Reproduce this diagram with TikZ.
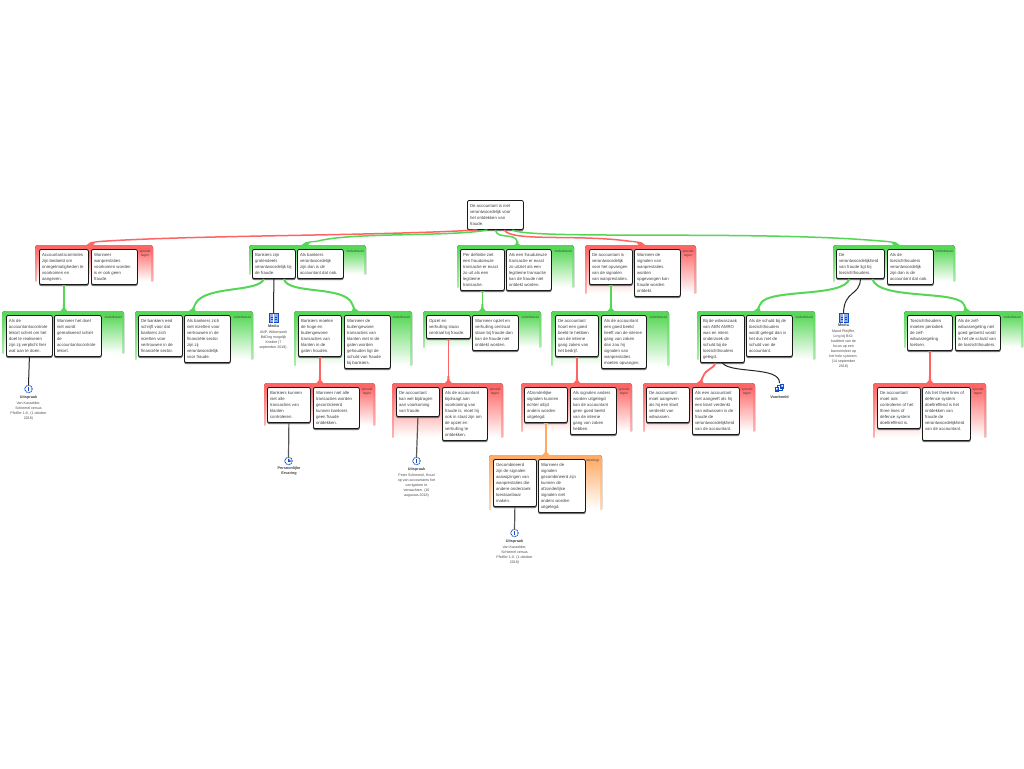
\documentclass[tikz,border=0pt]{standalone}
\usepackage{fontspec}
\setmainfont{Liberation Sans}
\usetikzlibrary{calc}
\definecolor{grn}{RGB}{85,215,85}
\definecolor{rdd}{RGB}{255,100,100}
\definecolor{org}{RGB}{255,170,100}
\definecolor{txt}{RGB}{65,65,65}
\definecolor{icn}{RGB}{15,75,200}
\tikzset{
 x=1pt,y=-1pt,
 boxn/.style={draw=black!90,fill=white,line width=0.8pt,rounded corners=2pt,inner sep=2.6pt,anchor=north west,text=txt,
   font=\fontsize{4.3}{6}\selectfont,
   preaction={draw=black!55,fill=black!55,line width=0.8pt,transform canvas={yshift=-1.1pt}}},
 glab/.style={font=\fontsize{3.3}{4.6}\selectfont,text=txt,inner sep=0pt,align=center},
 iname/.style={font=\bfseries\fontsize{3.8}{5}\selectfont,text=txt,inner sep=0pt,align=center},
 idesc/.style={font=\fontsize{3.6}{5}\selectfont,text=black!70,inner sep=0pt,align=center,anchor=north},
 blackline/.style={draw=black!85,line width=1pt},
 greyline/.style={draw=black!65,line width=1.2pt},
 dashicon/.style={circle,draw=icn,dash pattern=on 1.1pt off 0.7pt,line width=0.9pt,minimum size=7.5pt,inner sep=0pt},
 mediaicon/.style={draw=icn,fill=icn!45,line width=0.5pt,minimum width=9pt,minimum height=9pt,inner sep=0pt},
}
\newcommand\tl[1]{\begin{tabular}{@{}l@{}}#1\end{tabular}}
% name x1 y1 x2 y2 text
\newcommand\bx[6]{%
 \pgfmathsetlengthmacro\bw{#4-#2}\pgfmathsetlengthmacro\bh{#5-#3}\pgfmathsetlengthmacro\tw{#4-#2-5.2}%
 \node[boxn,minimum width=\bw,minimum height=\bh] (#1) at (#2,#3) {\makebox[\tw][l]{\tl{#6}}};}
\newcommand\grpbase[6]{%
 \fill[top color=#6,bottom color=#6!50!white] (#2,#5) [rounded corners=3pt] -- (#2,#3) -- (#4,#3) [sharp corners] -- (#4,#5) -- cycle;
 \fill[top color=#6,bottom color=white] (#2+2,#3+3) rectangle (#4-2,#5);
 \pgfmathsetlengthmacro\gw{#4-#2}\pgfmathsetlengthmacro\gh{#5-#3}%
 \node[inner sep=0pt,minimum width=\gw,minimum height=\gh,anchor=north west] (#1) at (#2,#3) {};}
\newcommand\grpG[5]{\grpbase{#1}{#2}{#3}{#4}{#5}{grn}\node[glab,anchor=east] (#1l) at (#4-2,#3+6) {onderbouwt};}
\newcommand\grpR[5]{\grpbase{#1}{#2}{#3}{#4}{#5}{rdd}\node[glab] (#1l) at (#4-8,#3+8.5) {spreekt\\tegen};}
\newcommand\grpO[5]{\grpbase{#1}{#2}{#3}{#4}{#5}{org}\node[glab,anchor=east] (#1l) at (#4-3,#3+6) {weerlegt};}
% flare at an end point: colour, point, slant of its apex
\newcommand\flare[3]{\fill[#1] ($#2+(#3-1,-7)$) .. controls ($#2+(#3*0.3-1,-2)$) .. ($#2+(-3.4,0)$) -- ($#2+(3.4,0)$) .. controls ($#2+(#3*0.3+1,-2)$) .. ($#2+(#3+1,-7)$) -- cycle;}
% wedge for a nearly level arrival: colour, point, side (+1 from right, -1 from left)
\newcommand\wedgeflare[3]{\fill[#1] ($#2+(-1.5*#3,0)$) .. controls ($#2+(1*#3,-3)$) .. ($#2+(14*#3,-4.5)$) -- ($#2+(14*#3,-3)$) .. controls ($#2+(6*#3,-2.5)$) .. ($#2+(5*#3,0)$) -- cycle;}
\newcommand\stem[3]{% colour, from, to-group
 \fill[#1] ($(#2.south)+(-2.4,0)$) -- ($(#2.south)+(2.4,0)$) -- ($(#2.south)+(1,1.5)$) -- ($(#2.south)+(-1,1.5)$) -- cycle;
 \draw[#1,line width=1.8pt] (#2.south) -- (#2.south |- #3.north);
 \flare{#1}{(#2.south |- #3.north)}{0}}
\begin{document}
\begin{tikzpicture}
\useasboundingbox (0,0) rectangle (1024,768);
\fill[white] (0,0) rectangle (1024,768);
% groups
\grpR{ga}{35}{245}{153}{281}
\grpG{gb}{2}{311}{124}{353}
\grpG{gc}{135}{311}{253}{359}
\grpG{gd}{249}{245}{366}{274}
\grpG{ge}{294}{311}{412}{365}
\grpG{gf}{423}{311}{541}{347}
\grpG{gg}{457}{245}{574}{287}
\grpR{gh}{585}{245}{696}{293}
\grpG{gi}{551}{311}{669}{365}
\grpG{gj}{833}{245}{955}{281}
\grpG{gk}{697}{311}{815}{359}
\grpG{gl}{904}{311}{1023}{347}
\grpR{gm}{643}{383}{755}{431}
\grpR{gn}{873}{383}{986}{437}
\grpR{go}{264}{383}{375}{425}
\grpR{gp}{392}{383}{503}{437}
\grpR{gq}{521}{383}{632}{431}
\grpO{gr}{489}{455}{602}{509}
% boxes
\bx{root}{467}{200}{523}{227}{De accountant is niet\\verantwoordelijk voor\\het ontdekken van\\fraude.}
\bx{a1}{39}{249}{88}{281}{Accountantscontroles\\zijn bedoeld om\\onregelmatigheden te\\voorkomen en\\aangeven.}
\bx{a2}{91}{249}{137}{281}{Wanneer\\wanprestaties\\voorkomen worden\\is er ook geen\\fraude.}
\bx{b1}{6}{315}{52}{353}{Als de\\accountantscontrole\\tekort schiet om het\\doel te realiseren\\zijn zij verplicht hier\\wat aan te doen.}
\bx{b2}{54}{315}{101}{353}{Wanneer het doel\\niet wordt\\gerealiseerd schiet\\de\\accountantscontrole\\tekort.}
\bx{c1}{138}{315}{182}{353}{De bankiers eed\\schrijft voor dat\\bankiers zich\\inzetten voor\\vertrouwen in de\\financiële sector.}
\bx{c2}{184}{315}{230}{359}{Als bankiers zich\\niet inzetten voor\\vertrouwen in de\\financiële sector\\zijn zij\\verantwoordelijk\\voor fraude.}
\bx{d1}{252}{249}{295}{275}{Bankiers zijn\\grotendeels\\verantwoordelijk bij\\de fraude.}
\bx{d2}{297}{249}{343}{275}{Als bankiers\\verantwoordelijk\\zijn dan is de\\accountant dat ook.}
\bx{e1}{298}{315}{341}{353}{Bankiers moeten\\de hoge en\\buitengewone\\transacties van\\klanten in de\\gaten houden.}
\bx{e2}{344}{315}{390}{365}{Wanneer de\\buitengewone\\transacties van\\klanten niet in de\\gaten worden\\gehouden ligt de\\schuld van fraude\\bij bankiers.}
\bx{f1}{426}{315}{470}{335}{Opzet en\\verhulling staan\\centraal bij fraude.}
\bx{f2}{472}{315}{518}{347}{Wanneer opzet en\\verhulling centraal\\staan bij fraude dan\\kan de fraude niet\\ontdekt worden.}
\bx{g1}{460}{249}{504}{287}{Per definitie ziet\\een frauduleuze\\transactie er exact\\zo uit als een\\legitieme\\transactie.}
\bx{g2}{506}{249}{551}{287}{Als een frauduleuze\\transactie er exact\\zo uitziet als een\\legitieme transactie\\kan de fraude niet\\ontdekt worden.}
\bx{h1}{589}{249}{632}{281}{De accountant is\\verantwoordelijk\\voor het opvangen\\van de signalen\\van wanprestaties.}
\bx{h2}{634}{249}{680}{293}{Wanneer de\\signalen van\\wanprestaties\\worden\\opgevangen kan\\fraude worden\\ontdekt.}
\bx{i1}{555}{315}{598}{353}{De accountant\\hoort een goed\\beeld te hebben\\van de interne\\gang zaken van\\het bedrijf.}
\bx{i2}{601}{315}{646}{365}{Als de accountant\\een goed beeld\\heeft van de interne\\gang van zaken\\dan zou hij\\signalen van\\wanprestaties\\moeten opvangen.}
\bx{j1}{836}{249}{884}{275}{De\\verantwoordelijkheid\\van fraude ligt bij\\toezichthouders.}
\bx{j2}{887}{249}{933}{281}{Als de\\toezichthouders\\verantwoordelijk\\zijn dan is de\\accountant dat ook.}
\bx{k1}{700}{315}{744}{359}{Bij de witwaszaak\\van ABN AMRO\\was en intern\\onderzoek de\\schuld bij de\\toezichthouders\\gelegd.}
\bx{k2}{746}{315}{792}{353}{Als de schuld bij de\\toezichthouders\\wordt gelegd dan is\\het dus niet de\\schuld van de\\accountant.}
\bx{l1}{907}{315}{952}{347}{Toezichthouders\\moeten periodiek\\de zelf-\\witwasregeling\\toetsen.}
\bx{l2}{955}{315}{1000}{347}{Als de zelf-\\witwasregeling niet\\goed getoetst wordt\\is het de schuld van\\de toezichthouders.}
\bx{m1}{646}{387}{689}{419}{De accountant\\moet aangeven\\als hij een klant\\verdenkt van\\witwassen.}
\bx{m2}{692}{387}{739}{431}{Als een accountant\\niet aangeeft als hij\\een klant verdenkt\\van witwassen is de\\fraude de\\verantwoordelijkheid\\van de accountant.}
\bx{n1}{877}{387}{920}{425}{De accountant\\moet ook\\controleren of het\\three lines of\\defence system\\doeltreffend is.}
\bx{n2}{922}{387}{970}{437}{Als het three lines of\\defence system\\doeltreffend is het\\ontdekken van\\fraude de\\verantwoordelijkheid\\van de accountant.\\\mbox{}}
\bx{o1}{267}{387}{310}{419}{Bankiers kunnen\\niet alle\\transacties van\\klanten\\controleren.}
\bx{o2}{313}{387}{359}{425}{Wanneer niet alle\\transacties worden\\gecontroleerd\\kunnen bankiers\\geen fraude\\ontdekken.}
\bx{p1}{396}{387}{439}{413}{De accountant\\kan wel bijdragen\\aan voorkoming\\van fraude.}
\bx{p2}{442}{387}{487}{437}{Als de accountant\\bijdraagt aan\\voorkoming van\\fraude is, moet hij\\ook in staat zijn om\\de opzet en\\verhulling te\\ontdekken.}
\bx{q1}{524}{387}{567}{419}{Afzonderlijke\\signalen kunnen\\echter altijd\\anders worden\\uitgelegd.}
\bx{q2}{570}{387}{616}{431}{Als signalen anders\\worden uitgelegd\\kan de accountant\\geen goed beeld\\van de interne\\gang van zaken\\hebben.}
\bx{r1}{493}{459}{536}{503}{Gecombineerd\\zijn de signalen\\aanwijzingen van\\wanprestaties die\\andere onderzoek\\toestaanbaar\\maken.}
\bx{r2}{538}{459}{585}{509}{Wanneer de\\signalen\\gecombineerd zijn\\kunnen de\\afzonderlijke\\signalen niet\\anders worden\\uitgelegd.}
% icons
\node[dashicon] (ui1) at (28.5,389) {};
\node[dashicon] (pe1) at (288.5,461) {};
\node[dashicon] (ui2) at (416.5,461) {};
\node[dashicon] (ui3) at (514.5,533) {};
\node[mediaicon] (me1) at (273.5,318) {};
\node[mediaicon] (me2) at (843.5,318) {};
\coordinate (vb) at (779.5,388);
\foreach \n in {ui1,ui2,ui3}{\fill[icn] ($(\n)+(-0.7,-2.2)$) rectangle ($(\n)+(0.7,0.6)$);\fill[icn] ($(\n)+(-0.7,1.1)$) rectangle ($(\n)+(0.7,2.3)$);}
\fill[icn] ($(pe1)+(-0.4,0.8)$) -- ($(pe1)+(2.2,0.8)$) -- ($(pe1)+(2.2,-0.6)$) -- ($(pe1)+(0.9,-0.6)$) -- ($(pe1)+(0.9,-2.2)$) -- ($(pe1)+(-0.4,-2.2)$) -- cycle;
\foreach \n in {me1,me2}{\draw[white,line width=0.5pt] ($(\n)+(0,-4.5)$) -- ($(\n)+(0,4.5)$);\draw[icn,line width=0.5pt] ($(\n)+(-3,-1)$) -- ($(\n)+(-1,-1)$) ($(\n)+(1,-1)$) -- ($(\n)+(3,-1)$) ($(\n)+(-3,1.5)$) -- ($(\n)+(-1,1.5)$) ($(\n)+(1,1.5)$) -- ($(\n)+(3,1.5)$);}
\fill[icn] ($(vb)+(-4.5,-1)$) rectangle ($(vb)+(-0.8,3.5)$);
\fill[icn] ($(vb)+(0.8,-4)$) rectangle ($(vb)+(4.5,0.5)$);
\fill[white] ($(vb)+(-3.5,0)$) rectangle ($(vb)+(-1.8,1.5)$) ($(vb)+(1.8,-3)$) rectangle ($(vb)+(3.5,-1.5)$);
\draw[icn,line width=0.6pt] ($(vb)+(-2.6,-1)$) -- ($(vb)+(-2.6,-2.5)$) -- ($(vb)+(0.8,-2.5)$) ($(vb)+(2.6,0.5)$) -- ($(vb)+(2.6,2)$) -- ($(vb)+(-0.8,2)$);
% labels
\node[iname] (ln1) at (28.5,398) {Uitspraak};
\node[idesc] (tx1) at (28.5,402) {Van Kasselder,\\Schiemel versus\\Pfeiffer 1-0. (1 oktober\\2018)};
\node[iname] (ln2) at (273.5,326) {Media};
\node[idesc] (tx2) at (273.5,330.5) {ANP, Wilsenseek\\BdOng mogelijk\\Krediet (7\\september 2018).};
\node[iname] (ln3) at (843.5,325.5) {Media};
\node[idesc] (tx3) at (843.5,329.5) {Mand Pfeijffer,\\Ling bij BIO:\\kwaliteit van de\\focus op een\\bannerinleer op\\het hele systeem.\\(14 september\\2018)};
\node[iname] (ln4) at (779.5,397) {Voorbeeld};
\node[iname] (ln5) at (289,471.5) {Persoonlijke\\Ervaring};
\node[iname] (ln6) at (416.5,470) {Uitspraak};
\node[idesc] (tx6) at (416.5,474) {Peter Schimmel, Houd\\op van accountants het\\corrigatiem te\\verwachten. (10\\augustus 2018)};
\node[iname] (ln7) at (514.5,542) {Uitspraak};
\node[idesc] (tx7) at (514.5,546) {Van Kasselder,\\Schiemel versus\\Pfeiffer 1-0. (1 oktober\\2018)};
% connectors from root
\draw[rdd,line width=1.5pt] ($(root.south)+(-18,0)$) .. controls (370,236) and (200,235) .. ($(ga.north)+(-6,0)+(14,-3.7)$);
\wedgeflare{rdd}{($(ga.north)+(-6,0)$)}{1}
\draw[grn,line width=1.5pt] ($(root.south)+(-8,0)$) .. controls (450,237) and (350,232) .. ($(gd.north)+(-4.5,0)+(14,-3.7)$);
\wedgeflare{grn}{($(gd.north)+(-4.5,0)$)}{1}
\draw[grn,line width=1.5pt] (root.south) .. controls (497,240) and (516,232) .. ($(gg.north)+(1.5,-3)$);
\fill[grn] ($(gg.north)+(0.5,-4)$) .. controls ($(gg.north)+(0.5,-1)$) .. ($(gg.north)+(-1.5,0)$) -- ($(gg.north)+(4.5,0)$) .. controls ($(gg.north)+(2.5,-1)$) .. ($(gg.north)+(2.5,-4)$) -- cycle;
\draw[rdd,line width=1.5pt] ($(root.south)+(9,0)$) .. controls (510,242) and (580,234) .. ($(gh.north)+(3,0)+(-14,-3.7)$);
\wedgeflare{rdd}{($(gh.north)+(3,0)$)}{-1}
\draw[grn,line width=1.5pt] ($(root.south)+(17,0)$) .. controls (530,240) and (760,230) .. ($(gj.north)+(4,0)+(-14,-3.7)$);
\wedgeflare{grn}{($(gj.north)+(4,0)$)}{-1}
% vertical stems
\stem{grn}{a1}{gb}
\stem{grn}{g1}{gf}
\stem{grn}{h1}{gi}
\stem{rdd}{e1}{go}
\stem{rdd}{f1}{gp}
\stem{rdd}{i1}{gq}
\stem{org}{q1}{gr}
\stem{rdd}{l1}{gn}
% curved tails
\draw[grn,line width=2pt] ($(d1.south)+(-10,0)$) .. controls (258,293) and (205,285) .. ($(gc.north)+(-2,0)+(3,-7)$);
\flare{grn}{($(gc.north)+(-2,0)$)}{3}
\draw[grn,line width=2pt] ($(d1.south)+(10,0)$) .. controls (288,295) and (345,285) .. ($(ge.north)+(2,0)+(-3,-7)$);
\flare{grn}{($(ge.north)+(2,0)$)}{-3}
\draw[grn,line width=2pt] ($(j1.south)+(-11,0)$) .. controls (843,298) and (768,288) .. ($(gk.north)+(1,0)+(3,-7)$);
\flare{grn}{($(gk.north)+(1,0)$)}{3}
\draw[grn,line width=2pt] ($(j1.south)+(12,0)$) .. controls (878,300) and (955,290) .. ($(gl.north)+(3,0)+(-3,-7)$);
\flare{grn}{($(gl.north)+(3,0)$)}{-3}
\draw[rdd,line width=1.8pt] ($(k1.south)+(-7,0)$) .. controls (715,368) and (706,369) .. ($(gm.north)+(1,0)+(3,-7)$);
\flare{rdd}{($(gm.north)+(1,0)$)}{3}
% black connectors
\draw[blackline] (b1.south) -- (ui1.north);
\draw[blackline] (d1.south) -- (me1.north);
\draw[blackline] (j1.south) .. controls (860,296) and (844,290) .. (me2.north);
\draw[blackline] (k1.south) .. controls (731,374) and (780,366) .. ($(vb)+(0,-5)$);
\draw[greyline] (o1.south) -- (pe1.north);
\draw[greyline] (p1.south) -- (ui2.north);
\draw[greyline] (r1.south) -- (ui3.north);
\end{tikzpicture}
\end{document}
